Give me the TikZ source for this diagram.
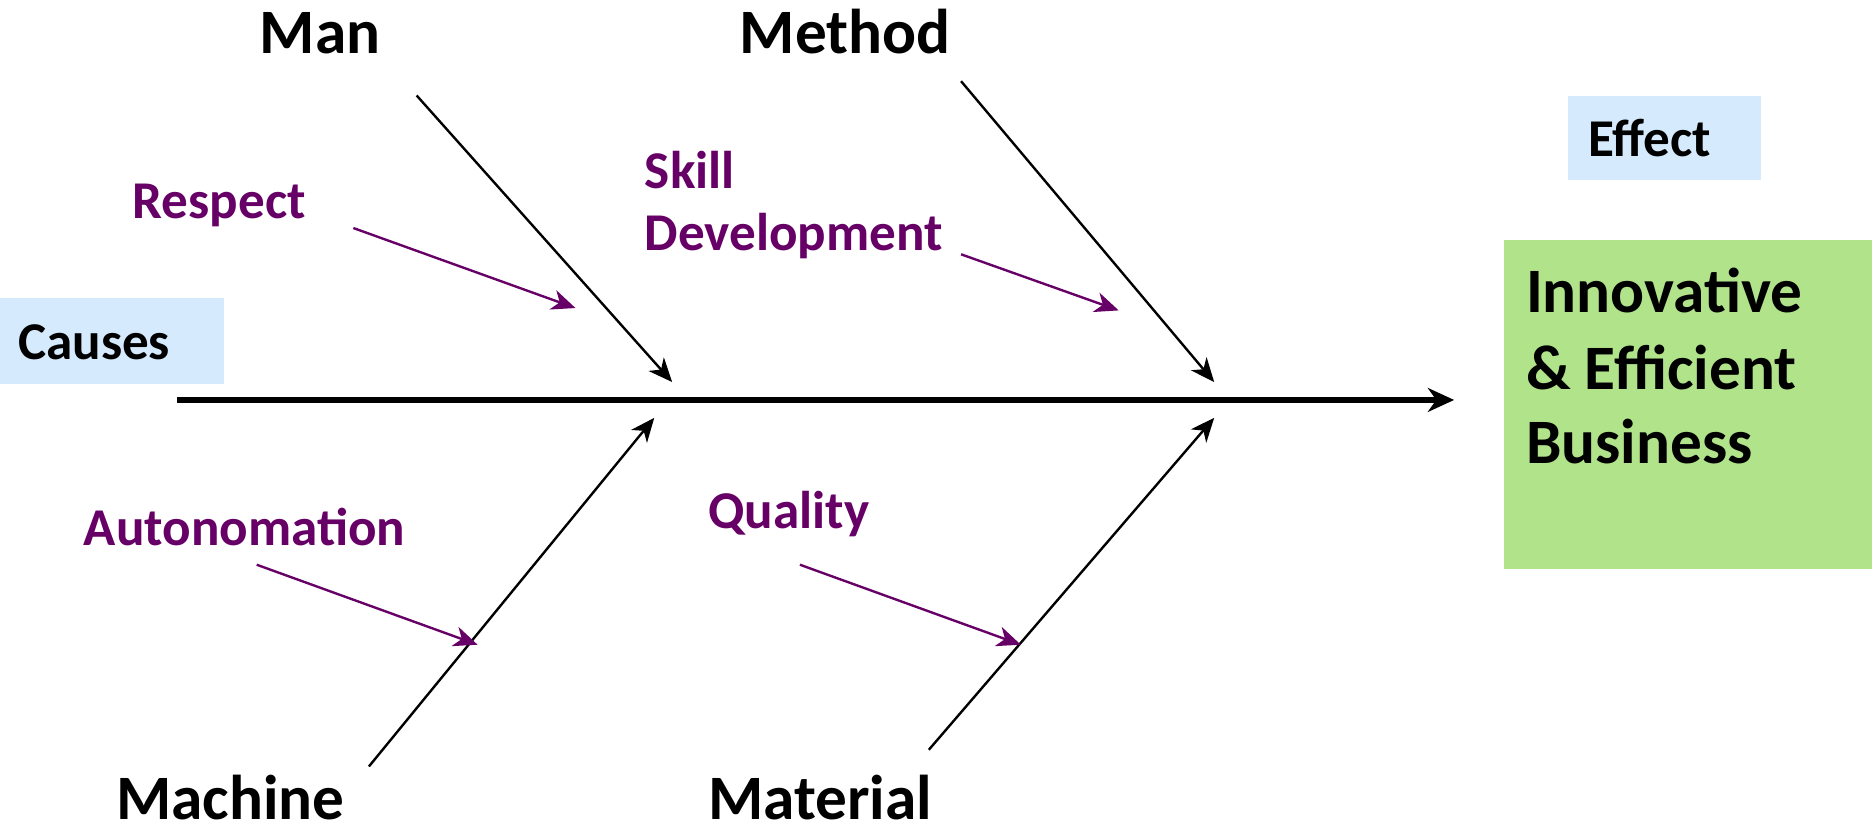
\documentclass[tikz,border=0pt]{standalone}
\usepackage{fontspec}
\setmainfont{Carlito}
\usetikzlibrary{arrows.meta}
\definecolor{boxblue}{HTML}{D5EBFD}
\definecolor{boxgreen}{HTML}{B1E38A}
\definecolor{plum}{HTML}{660066}
\begin{document}
\begin{tikzpicture}[x=1pt,y=-1pt,
  big/.style={font=\fontsize{53}{63}\selectfont\bfseries, inner sep=0pt},
  small/.style={font=\fontsize{44.5}{52}\selectfont\bfseries, inner sep=0pt},
  bone/.style={draw=black, line width=2pt, -{Stealth[length=20pt,width=17pt,inset=6pt]}},
  subbone/.style={draw=plum, line width=2pt, -{Stealth[length=20pt,width=17pt,inset=6pt]}},
  spine/.style={draw=black, line width=4.5pt, -{Stealth[length=22pt,width=20pt,inset=7pt]}}]
\useasboundingbox (0,0) rectangle (1568,691);
% boxes
\fill[boxblue] (0,250) rectangle (188,322);
\fill[boxblue] (1313,80) rectangle (1475,151);
\fill[boxgreen] (1260,201) rectangle (1568,477);
% labels
\node[small, anchor=base west] (causes) at (15,301) {Causes};
\node[small, anchor=base west] (effect) at (1330,131) {Effect};
\node[big, anchor=base west] (eff1) at (1278,262) {Innovative};
\node[big, anchor=base west] (eff2) at (1278,326) {\& Efficient};
\node[big, anchor=base west] (eff3) at (1278,388) {Business};
\node[big, anchor=base] (man) at (268,45) {Man};
\node[big, anchor=base] (method) at (708,45) {Method};
\node[big, anchor=base, text depth=0pt] (machine) at (193,686) {Machine};
\node[big, anchor=base, text depth=0pt] (material) at (687,686) {Material};
\node[small, text=plum, anchor=base west] (respect) at (111,183) {Respect};
\node[small, text=plum, anchor=base west] (skill) at (540,158) {Skill};
\node[small, text=plum, anchor=base west] (devel) at (540,210) {Development};
\node[small, text=plum, anchor=base west] (auto) at (70,457) {Autonomation};
\node[small, text=plum, anchor=base west] (quality) at (593,443) {Quality};
% coordinates
\coordinate (spineS) at (148,335);
\coordinate (spineE) at (1218,335);
\coordinate (manS) at (349,80);
\coordinate (manE) at (563,320);
\coordinate (methS) at (805,68);
\coordinate (methE) at (1017,320);
\coordinate (machS) at (309,642);
\coordinate (machE) at (548,350);
\coordinate (matS) at (778,628);
\coordinate (matE) at (1017,350);
\coordinate (respS) at (296,191);
\coordinate (respE) at (482,258);
\coordinate (skillS) at (805,213);
\coordinate (skillE) at (937,260);
\coordinate (autoS) at (215,473);
\coordinate (autoE) at (400,540);
\coordinate (qualS) at (670,473);
\coordinate (qualE) at (855,540);
% connectors
\draw[spine] (spineS) -- (spineE);
\draw[bone] (manS) -- (manE);
\draw[bone] (methS) -- (methE);
\draw[bone] (machS) -- (machE);
\draw[bone] (matS) -- (matE);
\draw[subbone] (respS) -- (respE);
\draw[subbone] (skillS) -- (skillE);
\draw[subbone] (autoS) -- (autoE);
\draw[subbone] (qualS) -- (qualE);
\end{tikzpicture}
\end{document}
